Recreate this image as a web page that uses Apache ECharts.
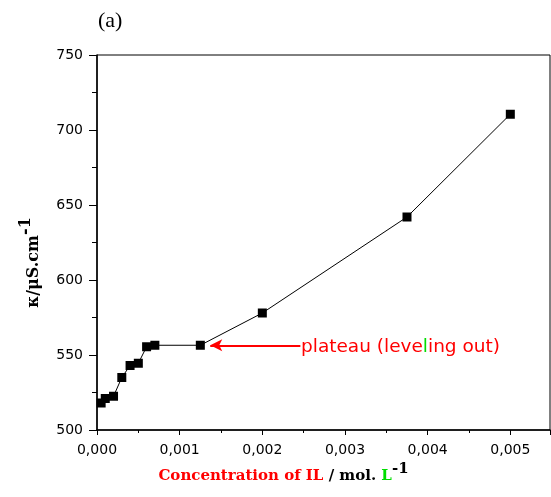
<!DOCTYPE html>
<html>
<head>
	<meta charset="UTF-8">
	<title>conductivity vs concentration</title>
	<script src="https://cdn.jsdelivr.net/npm/echarts@6/dist/echarts.min.js"></script>
	<style>
		html, body {margin:0; padding:0; background:#fff}
		#chart {width:551px; height:497px}
	</style>
</head>
<body>
<div id="chart"></div>

<script type="text/javascript">
	// concentration (mol/L) and conductivity (uS/cm)
	var concentration = [0.00005, 0.0001, 0.0002, 0.0003, 0.0004, 0.0005, 0.0006, 0.0007, 0.00125, 0.002, 0.00375, 0.005];
	var kappa = [518, 521, 522.5, 535, 543, 544.5, 555.5, 556.5, 556.5, 578, 642, 710.5];
	var arrowFrom = [0.00246, 556.5];
	var arrowTo = [0.00137, 556.5];

	var chart = echarts.init(document.getElementById('chart'));

	var points = [];
	for (var i = 0; i < concentration.length; i++)
	{
		points.push([concentration[i], kappa[i]]);
	}

	var serif = '"DejaVu Serif", "Times New Roman", serif';
	var sans = '"DejaVu Sans", Arial, sans-serif';

	var option =
	{
		animation: false,
		title: {
			text: '(a)',
			left: 93,
			top: 5,
			textStyle: {fontFamily: '"Liberation Serif", "Times New Roman", serif', fontSize: 22, fontWeight: 'normal', color: '#000'}
		},
		grid: {
			left: 97,
			right: 1,
			top: 55,
			bottom: 67,
			show: true,
			borderColor: '#000',
			borderWidth: 1
		},
		xAxis: {
			type: 'value',
			min: 0,
			max: 0.00548,
			interval: 0.001,
			splitLine: {show: false},
			axisLine: {onZero: false, lineStyle: {color: '#000', width: 1.5}},
			axisTick: {inside: false, length: 5, lineStyle: {color: '#000'}},
			minorTick: {show: true, splitNumber: 2, length: 3, lineStyle: {color: '#000'}},
			axisLabel: {
				showMaxLabel: false,
				margin: 13,
				fontFamily: sans,
				fontSize: 14,
				color: '#000',
				formatter: function(v)
				{
					if (Math.abs(v * 1000 - Math.round(v * 1000)) > 1e-6) return '';
					return v.toFixed(3).replace('.', ',');
				}
			},
			name: '{r|Concentration of IL}{k| / mol. }{g|L}{s|-1}',
			nameLocation: 'middle',
			nameGap: 32,
			nameTextStyle: {
				padding: [0, 80, 0, 0],
				rich: {
					r: {fontFamily: serif, fontSize: 15, fontWeight: 'bold', color: '#ff0000', verticalAlign: 'bottom', lineHeight: 22},
					k: {fontFamily: serif, fontSize: 15, fontWeight: 'bold', color: '#000', verticalAlign: 'bottom', lineHeight: 22},
					g: {fontFamily: serif, fontSize: 15, fontWeight: 'bold', color: '#00dd00', verticalAlign: 'bottom', lineHeight: 22},
					s: {fontFamily: serif, fontSize: 15, fontWeight: 'bold', color: '#000', verticalAlign: 'top', lineHeight: 22, padding: [0, 0, 12, 0]}
				}
			}
		},
		yAxis: {
			type: 'value',
			min: 500,
			max: 750,
			interval: 50,
			splitLine: {show: false},
			axisLine: {onZero: false, lineStyle: {color: '#000', width: 1.5}},
			axisTick: {inside: false, length: 8, lineStyle: {color: '#000'}},
			minorTick: {show: true, splitNumber: 2, length: 5, lineStyle: {color: '#000'}},
			axisLabel: {margin: 14, fontFamily: sans, fontSize: 14, color: '#000'},
			name: '{m|κ/μS.cm}{s|-1}',
			nameLocation: 'middle',
			nameRotate: 90,
			nameGap: 52,
			nameTextStyle: {
				padding: [0, 40, 0, 0],
				rich: {
					m: {fontFamily: serif, fontSize: 16, fontWeight: 'bold', color: '#000', verticalAlign: 'bottom', lineHeight: 24},
					s: {fontFamily: serif, fontSize: 16, fontWeight: 'bold', color: '#000', verticalAlign: 'top', lineHeight: 24, padding: [0, 0, 12, 0]}
				}
			}
		},
		series: [{
			type: 'line',
			data: points,
			symbol: 'rect',
			symbolSize: 9,
			itemStyle: {color: '#000'},
			lineStyle: {color: '#000', width: 1},
			markLine: {
				silent: true,
				symbol: ['none', 'arrow'],
				symbolSize: [9, 12],
				label: {show: false},
				lineStyle: {color: '#ff0000', width: 2, type: 'solid'},
				data: [[{coord: arrowFrom}, {coord: arrowTo}]]
			}
		}],
		graphic: [{
			type: 'text',
			left: 301,
			top: 338,
			style: {
				text: '{r|plateau (leve}{g|l}{r|ing out)}',
				rich: {
					r: {fontFamily: sans, fontSize: 18.5, fill: '#ff0000'},
					g: {fontFamily: sans, fontSize: 18.5, fill: '#00dd00'}
				}
			}
		}]
	};
	chart.setOption(option);
</script>

</body>
</html>
